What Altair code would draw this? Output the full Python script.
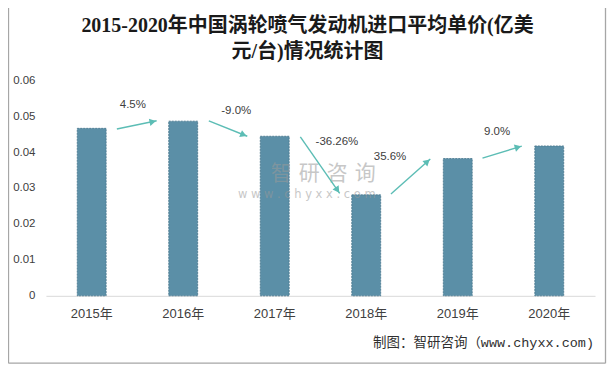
import math
import altair as alt
import pandas as pd

# ---- data ----
years = ["2015年", "2016年", "2017年", "2018年", "2019年", "2020年"]
prices = [0.0466, 0.0486, 0.0444, 0.0281, 0.0382, 0.0417]

growth_labels = ["4.5%", "-9.0%", "-36.26%", "35.6%", "9.0%"]
arrow_x_start = [0.275, 1.28, 2.28, 3.27, 4.27]
arrow_x_end = [0.71, 1.70, 2.71, 3.70, 4.70]
arrow_y_start = [0.0464, 0.0487, 0.04425, 0.02833, 0.03833]
arrow_y_end = [0.0487, 0.0444, 0.02853, 0.03806, 0.04167]
label_x = [0.45, 1.58, 2.68, 3.26, 4.43]
label_y = [0.0531, 0.0514, 0.04286, 0.0386, 0.0456]

title_lines = ["2015-2020年中国涡轮喷气发动机进口平均单价(亿美", "元/台)情况统计图"]
source_text = "制图：智研咨询（www.chyxx.com)"

# ---- layout ----
W, H = 550, 216
YMAX = 0.06
px_per_x = W / 6.0
px_per_y = H / YMAX

bars_df = pd.DataFrame({"year": years, "price": prices})

rows = []
for i in range(len(growth_labels)):
    dx = (arrow_x_end[i] - arrow_x_start[i]) * px_per_x
    dy = -(arrow_y_end[i] - arrow_y_start[i]) * px_per_y
    ang = math.degrees(math.atan2(dx, -dy)) % 360
    L = math.hypot(dx, dy)
    back = 4.0
    hx = arrow_x_end[i] - (dx / L) * back / px_per_x
    hy = arrow_y_end[i] + (dy / L) * back / px_per_y
    rows.append(dict(x1=arrow_x_start[i], x2=arrow_x_end[i],
                     y1=arrow_y_start[i], y2=arrow_y_end[i],
                     hx=hx, hy=hy, ang=ang,
                     lx=label_x[i], ly=label_y[i], lab=growth_labels[i]))
arr_df = pd.DataFrame(rows)

FONT = "Liberation Sans, Noto Sans CJK SC, sans-serif"
TEAL = "#5cbdb5"
XS = alt.Scale(domain=[-0.5, 5.5], nice=False, zero=False)
YS = alt.Scale(domain=[0, YMAX], nice=False)

bars = alt.Chart(bars_df).mark_bar(
    color="#5b8fa7", stroke="#46758c", strokeWidth=0.8, strokeDash=[2, 1]
).encode(
    x=alt.X("year:N", sort=years, title=None,
            scale=alt.Scale(paddingInner=0.684, paddingOuter=0.342),
            axis=alt.Axis(labelAngle=0, labelFontSize=13, labelColor="#404040",
                          labelFont=FONT, ticks=False, domainColor="#d9d9d9",
                          domainWidth=1, labelPadding=12)),
    y=alt.Y("price:Q", title=None,
            scale=YS,
            axis=alt.Axis(values=[0, 0.01, 0.02, 0.03, 0.04, 0.05, 0.06],
                          labelExpr="datum.value == 0 ? '0' : format(datum.value, '.2f')",
                          labelFontSize=11.5, labelColor="#404040", labelFont=FONT,
                          ticks=False, domain=False, grid=False, labelPadding=11)),
)

lines = alt.Chart(arr_df).mark_rule(color=TEAL, strokeWidth=1.4).encode(
    x=alt.X("x1:Q", scale=XS, axis=None), y=alt.Y("y1:Q", scale=YS, axis=None),
    x2="x2:Q", y2="y2:Q")

heads = alt.Chart(arr_df).mark_point(
    shape="triangle-up", filled=True, color=TEAL, opacity=1, size=55
).encode(
    x=alt.X("hx:Q", scale=XS, axis=None),
    y=alt.Y("hy:Q", scale=YS, axis=None),
    angle=alt.Angle("ang:Q", scale=None),
)

labels = alt.Chart(arr_df).mark_text(
    fontSize=11.5, color="#404040", font=FONT
).encode(
    x=alt.X("lx:Q", scale=XS, axis=None),
    y=alt.Y("ly:Q", scale=YS, axis=None),
    text="lab:N",
)

wm_text = ["智\u2004研\u2004咨\u2004询", "w w w . c h y x x . c o m"]
wm_x = [2.53, 2.35]
wm_y = [0.0338, 0.0280]
wm_df = pd.DataFrame({"t": wm_text, "wx": wm_x, "wy": wm_y})
watermark1 = alt.Chart(wm_df.iloc[[0]]).mark_text(
    fontSize=21, color="#9a9a9a", opacity=0.55, font="Noto Sans CJK SC"
).encode(x=alt.X("wx:Q", scale=XS, axis=None), y=alt.Y("wy:Q", scale=YS, axis=None), text="t:N")
watermark2 = alt.Chart(wm_df.iloc[[1]]).mark_text(
    fontSize=11.5, color="#9a9a9a", opacity=0.55, font="DejaVu Sans"
).encode(x=alt.X("wx:Q", scale=XS, axis=None), y=alt.Y("wy:Q", scale=YS, axis=None), text="t:N")

title_df = pd.DataFrame({"t": title_lines, "ty": [-54.5, -28.5]})
title = alt.Chart(title_df).mark_text(
    fontSize=20, font="Liberation Serif, Noto Sans CJK SC", fontWeight="bold",
    color="#1a1a1a", baseline="middle", align="center"
).encode(x=alt.value(262), y=alt.Y("ty:Q", scale=None), text="t:N")

source = alt.Chart(pd.DataFrame({"s": [source_text]})).mark_text(
    align="right", baseline="middle", fontSize=13.5, color="#303030",
    font="Liberation Mono, Noto Sans CJK SC"
).encode(x=alt.value(549), y=alt.value(263), text="s:N")

frame = alt.Chart(pd.DataFrame({"k": [0]})).mark_rule(color="#a6a6a6", strokeWidth=1.3).encode(
    x=alt.value(-37.5), x2=alt.value(-37.5), y=alt.value(-80), y2=alt.value(283.5))
frame_r = alt.Chart(pd.DataFrame({"k": [0]})).mark_rule(color="#a6a6a6", strokeWidth=1.3).encode(
    x=alt.value(560.5), x2=alt.value(560.5), y=alt.value(-80), y2=alt.value(283.5))
frame_b = alt.Chart(pd.DataFrame({"k": [0]})).mark_rule(color="#a6a6a6", strokeWidth=1.3).encode(
    x=alt.value(-37.5), x2=alt.value(560.5), y=alt.value(283.5), y2=alt.value(283.5))

chart = alt.layer(
    bars, watermark1, watermark2, lines, heads, labels, title, source, frame, frame_r, frame_b
).resolve_scale(x="independent", y="independent").properties(
    width=W, height=H,
    autosize=alt.AutoSizeParams(type="none"),
    padding={"left": 38, "top": 72, "right": 12, "bottom": 72},
).configure(background="white").configure_view(stroke=None)

chart.save("out.html", embed_options={"renderer": "svg", "actions": False})
